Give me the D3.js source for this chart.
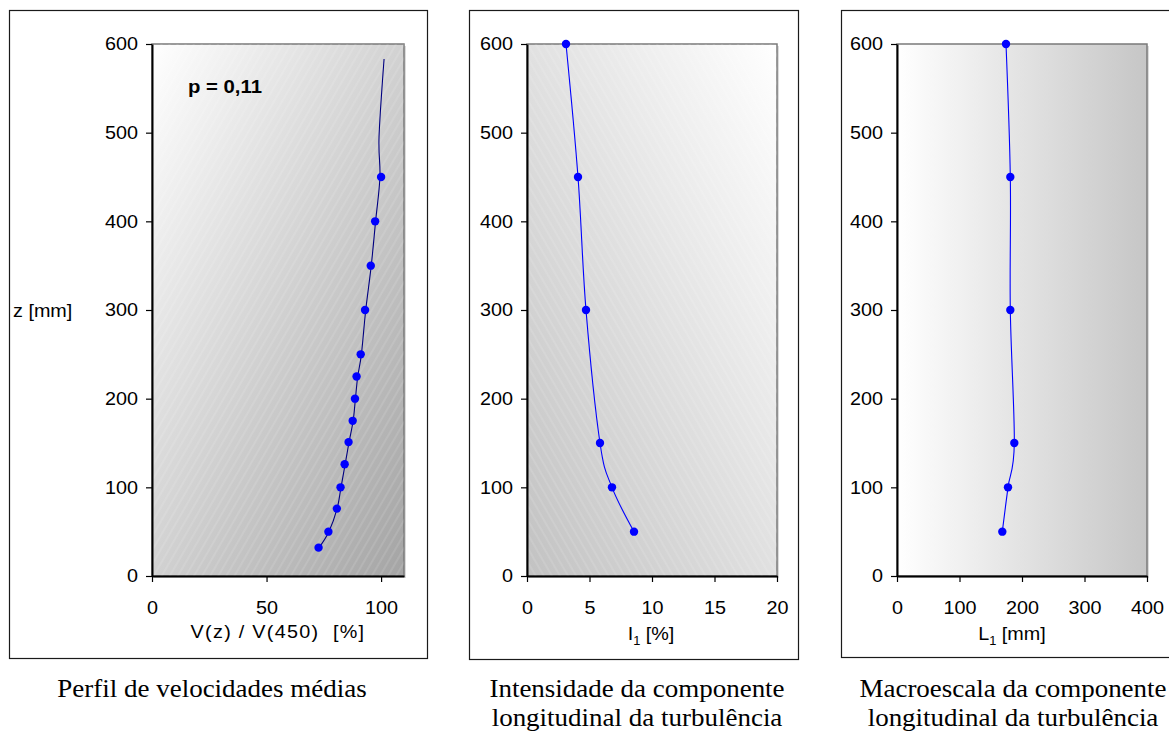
<!DOCTYPE html>
<html>
<head>
<meta charset="utf-8">
<script src="https://cdn.jsdelivr.net/npm/d3@7"></script>
<style>
  html, body { margin: 0; padding: 0; background: #fff; }
  svg { display: block; font-family: "Liberation Sans", Arial, sans-serif; }
</style>
</head>
<body>
<svg id="chart" width="1169" height="733"></svg>
<script>
// ---------- DATA ----------
const zTicks = [0, 100, 200, 300, 400, 500, 600];

// Panel 1: mean velocity profile
const velTicks = [0, 50, 100];
const velZ   = [32, 50, 76, 100, 126, 151, 175, 200, 225, 250, 300, 350, 400, 450];
const velPct = [72.7, 77.0, 80.7, 82.3, 84.1, 85.8, 87.6, 88.6, 89.3, 91.1, 93.0, 95.5, 97.4, 100.0];
const velLineZ   = [32, 50, 76, 100, 126, 151, 175, 200, 225, 250, 300, 350, 400, 450, 495, 583];
const velLinePct = [72.9, 77.2, 80.8, 82.5, 84.3, 86.0, 87.8, 88.8, 89.8, 91.4, 93.3, 95.7, 97.6, 99.5, 99.1, 101.3];
const velLabel = "p = 0,11";

// Panel 2: turbulence intensity
const intTicks = [0, 5, 10, 15, 20];
const intZ   = [50, 100, 150, 300, 450, 600];
const intPct = [8.56, 6.8, 5.84, 4.72, 4.08, 3.12];

// Panel 3: macroscale
const macTicks = [0, 100, 200, 300, 400];
const macZ  = [50, 100, 150, 300, 450, 600];
const macMm = [168.5, 177.6, 187.7, 181.3, 181.3, 174.4];

const yTitle = "z [mm]";
const captions1 = ["Perfil de velocidades médias"];
const captions2 = ["Intensidade da componente", "longitudinal da turbulência"];
const captions3 = ["Macroescala da componente", "longitudinal da turbulência"];

// ---------- DRAW ----------
const SANS = "'Liberation Sans', Arial, sans-serif";
const SERIF = "'Liberation Serif', 'Times New Roman', serif";
const svg = d3.select("#chart");
const defs = svg.append("defs");
const SX = 1.07; // horizontal stretch of glyphs in the reference

function gradient(id, x1, y1, x2, y2, c1, c2) {
  const g = defs.append("linearGradient").attr("id", id)
    .attr("x1", x1).attr("y1", y1).attr("x2", x2).attr("y2", y2);
  g.append("stop").attr("offset", "0%").attr("stop-color", c1);
  g.append("stop").attr("offset", "100%").attr("stop-color", c2);
}
gradient("g1", 0, 0, 1, 1, "#ffffff", "#a4a4a4");
gradient("g2", 0, 1, 1, 0, "#c2c2c2", "#ffffff");
gradient("g3", 0, 0, 1, 0, "#ffffff", "#c6c6c6");

function hatch(id, angle) {
  const p = defs.append("pattern").attr("id", id)
    .attr("patternUnits", "userSpaceOnUse").attr("width", 7).attr("height", 7)
    .attr("patternTransform", `rotate(${angle})`);
  p.append("line").attr("x1", 1).attr("y1", 0).attr("x2", 1).attr("y2", 7)
    .attr("stroke", "#ffffff").attr("stroke-opacity", 0.3).attr("stroke-width", 0.7);
}
hatch("h1", 30);
hatch("h2", -30);

function stretchText(sel) {
  sel.each(function () {
    const t = d3.select(this);
    const prev = t.attr("transform") || "";
    t.attr("transform", prev + ` scale(${SX},1)`);
  });
}

function panel(cfg) {
  const g = svg.append("g");
  // outer frame
  g.append("rect").attr("x", cfg.frame[0] + 0.5).attr("y", cfg.frame[1] + 0.5)
    .attr("width", cfg.frame[2]).attr("height", cfg.frame[3])
    .attr("fill", "none").attr("stroke", "#1a1a1a").attr("stroke-width", 1.2);

  const x = d3.scaleLinear().domain(cfg.xDomain).range([cfg.plot[0], cfg.plot[1]]);
  const y = d3.scaleLinear().domain([0, 600]).range([cfg.plot[3], cfg.plot[2]]);
  const pw = cfg.plot[1] - cfg.plot[0], ph = cfg.plot[3] - cfg.plot[2];

  // plot background
  g.append("rect").attr("x", cfg.plot[0] + 2).attr("y", cfg.plot[2] + 2)
    .attr("width", pw).attr("height", ph).attr("fill", "#dcdcdc");
  g.append("rect").attr("x", cfg.plot[0]).attr("y", cfg.plot[2])
    .attr("width", pw).attr("height", ph).attr("fill", `url(#${cfg.grad})`)
    .attr("stroke", "#7a7a7a").attr("stroke-width", 1.5);
  if (cfg.hatch) {
    g.append("rect").attr("x", cfg.plot[0]).attr("y", cfg.plot[2])
      .attr("width", pw).attr("height", ph).attr("fill", `url(#${cfg.hatch})`);
  }

  // axes
  const ya = g.append("g").attr("transform", `translate(${cfg.plot[0]},0)`)
    .call(d3.axisLeft(y).tickValues(zTicks).tickSize(6).tickPadding(7).tickSizeOuter(0));
  const xa = g.append("g").attr("transform", `translate(0,${cfg.plot[3]})`)
    .call(d3.axisBottom(x).tickValues(cfg.xTicks).tickSize(6).tickPadding(19).tickSizeOuter(0));
  [ya, xa].forEach(a => {
    a.attr("font-family", null).attr("font-size", null);
    a.select(".domain").attr("stroke", "#000").attr("stroke-width", 2);
    a.selectAll(".tick line").attr("stroke", "#000").attr("stroke-width", 1.2);
    a.selectAll("text").style("font-size", "18.5px").attr("fill", "#000")
      .style("font-family", SANS);
    stretchText(a.selectAll("text"));
  });

  // line
  const lineGen = d3.line().x(d => x(d[0])).y(d => y(d[1]))
    .curve(d3.curveCardinal.tension(0));
  const lineData = d3.zip(cfg.lineX, cfg.lineZ);
  g.append("path").datum(lineData).attr("d", lineGen)
    .attr("fill", "none").attr("stroke", cfg.lineColor).attr("stroke-width", 1.1);

  // markers
  g.selectAll("circle.pt").data(d3.zip(cfg.ptX, cfg.ptZ)).join("circle")
    .attr("class", "pt").attr("cx", d => x(d[0])).attr("cy", d => y(d[1]))
    .attr("r", 4.2).attr("fill", "#0000ff");

  // x title
  const t = g.append("text").style("font-size", "18.5px").style("font-family", SANS)
    .attr("text-anchor", "middle")
    .attr("transform", `translate(${cfg.titlePos[0]},${cfg.titlePos[1]}) scale(${SX},1)`);
  cfg.title(t);

  // captions
  cfg.captions.forEach((c, i) => {
    g.append("text").text(c)
      .style("font-family", SERIF)
      .style("font-size", "25px").attr("text-anchor", "middle")
      .attr("transform", `translate(${cfg.capX},${697 + i * 29}) scale(1.08,1)`);
  });
  return { g, x, y };
}

const p1 = panel({
  frame: [9, 10, 418, 648], plot: [152, 404, 44, 576], xDomain: [0, 110], xTicks: velTicks,
  grad: "g1", hatch: "h1", lineColor: "#000080",
  lineX: velLinePct, lineZ: velLineZ, ptX: velPct, ptZ: velZ,
  titlePos: [278, 638],
  title: t => t.style("letter-spacing", "1.2px").text("V(z) / V(450)\u00a0\u00a0[%]"),
  captions: captions1, capX: 212
});
p1.g.append("text").text(velLabel).style("font-size", "19px").style("font-family", SANS)
  .attr("font-weight", "bold")
  .attr("transform", `translate(188,93) scale(${SX},1)`);
p1.g.append("text").text(yTitle).style("font-size", "18.5px").style("font-family", SANS)
  .attr("transform", `translate(13,317) scale(${SX},1)`);

panel({
  frame: [469, 10, 329, 649], plot: [527, 777, 44, 576], xDomain: [0, 20], xTicks: intTicks,
  grad: "g2", hatch: "h2", lineColor: "#0000ff",
  lineX: intPct, lineZ: intZ, ptX: intPct, ptZ: intZ,
  titlePos: [651, 640],
  title: t => {
    t.append("tspan").text("I");
    t.append("tspan").text("1").style("font-size", "12px").attr("dy", 5);
    t.append("tspan").text(" [%]").attr("dy", -5);
  },
  captions: captions2, capX: 637
});

panel({
  frame: [841, 10, 340, 647], plot: [897, 1147, 44, 576], xDomain: [0, 400], xTicks: macTicks,
  grad: "g3", hatch: null, lineColor: "#0000ff",
  lineX: macMm, lineZ: macZ, ptX: macMm, ptZ: macZ,
  titlePos: [1012, 640],
  title: t => {
    t.append("tspan").text("L");
    t.append("tspan").text("1").style("font-size", "12px").attr("dy", 5);
    t.append("tspan").text(" [mm]").attr("dy", -5);
  },
  captions: captions3, capX: 1013
});
</script>
</body>
</html>
